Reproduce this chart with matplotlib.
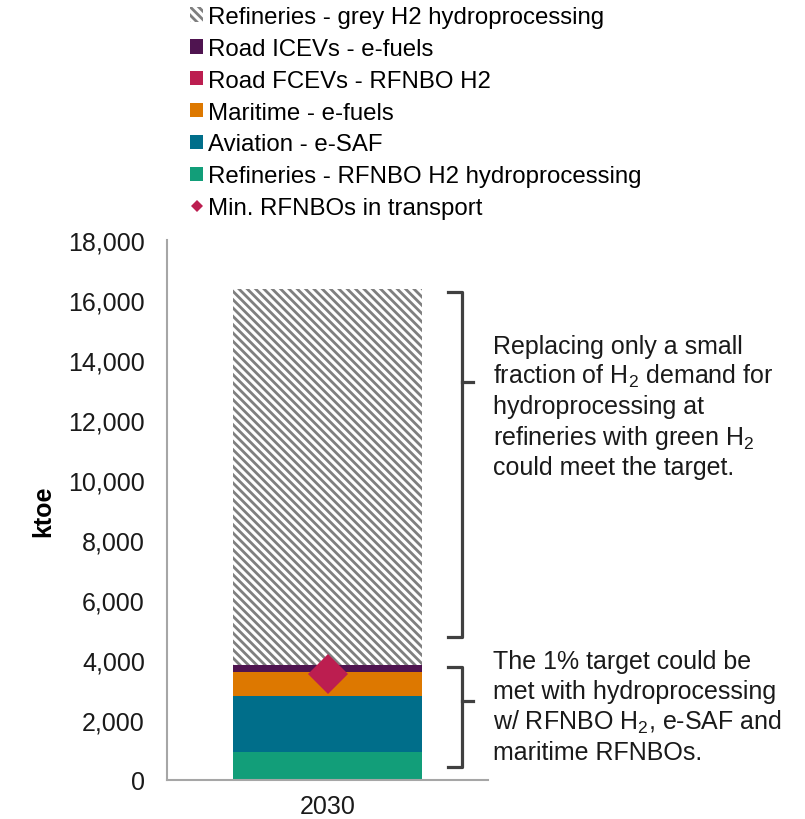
import matplotlib
matplotlib.use("Agg")
import matplotlib.pyplot as plt
import matplotlib.transforms as mtransforms
from matplotlib.patches import Patch
from matplotlib.lines import Line2D
from matplotlib.ticker import FuncFormatter
import numpy as np

plt.rcParams['font.family'] = ['Liberation Sans', 'DejaVu Sans']
plt.rcParams['mathtext.fontset'] = 'custom'
plt.rcParams['mathtext.rm'] = 'Liberation Sans'
plt.rcParams['mathtext.default'] = 'regular'
plt.rcParams['hatch.linewidth'] = 2.0

# ---------------- data ----------------
categories = ["2030"]
# stacking order bottom -> top
series_names = [
    "Refineries - RFNBO H2 hydroprocessing",
    "Aviation - e-SAF",
    "Maritime - e-fuels",
    "Road FCEVs - RFNBO H2",
    "Road ICEVs - e-fuels",
    "Refineries - grey H2 hydroprocessing",
]
series_values = [920, 1880, 800, 0, 230, 12540]
series_colors = ["#129E79", "#006E8A", "#DD7800", "#BC1E50", "#4F1450", "#FFFFFF"]
min_rfnbo_name = "Min. RFNBOs in transport"
min_rfnbo_value = 3530
diamond_color = "#BC1E50"
y_ticks = list(range(0, 18001, 2000))

# bracket annotations (y ranges in ktoe)
upper_bracket = (4770, 16270, 13270)
lower_bracket = (430, 3770, 2630)
upper_lines = ["Replacing only a small", r"fraction of H$_2$ demand for",
               "hydroprocessing at", r"refineries with green H$_2$",
               "could meet the target."]
lower_lines = ["The 1% target could be", "met with hydroprocessing",
               r"w/ RFNBO H$_2$, e-SAF and", "maritime RFNBOs."]

W, H = 805, 820
fig = plt.figure(figsize=(W / 100, H / 100), dpi=100)
ax = fig.add_axes([167 / W, 1 - 781 / H, 321 / W, 540 / H])

HATCH = "\\" * 4
x = np.arange(len(categories))
bottom = np.zeros(len(categories))
bar_handles = []
for name, val, col in zip(series_names, series_values, series_colors):
    if "grey" in name:
        ax.bar(x, [val], 0.589, bottom=bottom, facecolor="white",
               edgecolor="#7F7F7F", hatch=HATCH, linewidth=0, zorder=2)
        bar_handles.append(Patch(facecolor="white", edgecolor="#7F7F7F",
                                 hatch=HATCH, linewidth=0, label=name))
    else:
        ax.bar(x, [val], 0.589, bottom=bottom, color=col, linewidth=0, zorder=2)
        bar_handles.append(Patch(facecolor=col, edgecolor="none", label=name))
    bottom = bottom + val

ax.plot(x, [min_rfnbo_value], linestyle="none", marker="D", markersize=20,
        color=diamond_color, markeredgewidth=0, zorder=4, clip_on=False)

ax.set_xlim(-0.5, 0.5)
ax.set_ylim(0, 18000)
ax.set_yticks(y_ticks)
ax.yaxis.set_major_formatter(FuncFormatter(lambda v, p: f"{int(v):,}"))
ax.set_xticks(x)
ax.set_xticklabels(categories)
ax.tick_params(axis="y", length=0, pad=16, labelsize=18, labelcolor="#1a1a1a")
ax.tick_params(axis="x", length=0, pad=10, labelsize=18, labelcolor="#1a1a1a")
for s in ["top", "right"]:
    ax.spines[s].set_visible(False)
for s in ["left", "bottom"]:
    ax.spines[s].set_color("#A6A6A6")
    ax.spines[s].set_linewidth(1.5)

ax.set_ylabel("ktoe", fontsize=18, fontweight="bold")
ax.yaxis.set_label_coords(-0.348, 0.5)

# brackets
trans = mtransforms.blended_transform_factory(ax.transAxes, ax.transData)
xl, xv, xk = (448 - 167) / 321, (462 - 167) / 321, (473 - 167) / 321
for (y0, y1, yk) in [upper_bracket, lower_bracket]:
    ax.plot([xl, xv, xv, xl], [y1, y1, y0, y0], transform=trans, color="#404040",
            lw=2.3, clip_on=False, solid_joinstyle="round", zorder=5)
    ax.plot([xv, xk], [yk, yk], transform=trans, color="#404040", lw=2.3,
            clip_on=False, zorder=5)

# annotation texts
for i, t in enumerate(upper_lines):
    fig.text(493 / W, 1 - (354 + 30.25 * i) / H, t, fontsize=18, ha="left",
             va="baseline", color="#1a1a1a")
for i, t in enumerate(lower_lines):
    fig.text(493 / W, 1 - (669 + 30.3 * i) / H, t, fontsize=18, ha="left",
             va="baseline", color="#1a1a1a")

# legend (reverse stacking order, then diamond)
handles = bar_handles[::-1] + [Line2D([], [], linestyle="none", marker="D",
                                      markersize=6.6, color=diamond_color,
                                      markeredgewidth=0, label=min_rfnbo_name)]
fig.legend(handles=handles, loc="upper left", bbox_to_anchor=(190 / W, 1 - 7 / H),
           frameon=False, fontsize=17.3, handlelength=0.55, handleheight=0.55,
           handletextpad=0.2, labelspacing=0.41, borderpad=0, borderaxespad=0)

fig.savefig("out.png", dpi=100)
